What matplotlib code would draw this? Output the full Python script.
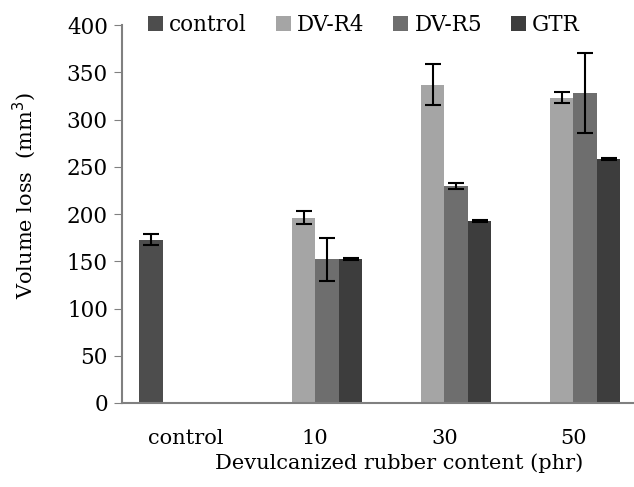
import numpy as np
import matplotlib
matplotlib.use("Agg")
import matplotlib.pyplot as plt

plt.rcParams['font.family'] = ['DejaVu Serif']

# data
groups = ['control', '10', '30', '50']
series = ['control', 'DV-R4', 'DV-R5', 'GTR']
values = {
    'control': [173, 0, 0, 0],
    'DV-R4':   [0, 196, 337, 323],
    'DV-R5':   [0, 152, 230, 328],
    'GTR':     [0, 152, 193, 258],
}
errors = {
    'control': [6, 0, 0, 0],
    'DV-R4':   [0, 7, 22, 6],
    'DV-R5':   [0, 23, 3, 42],
    'GTR':     [0, 1, 1, 1],
}
present = {
    'control': [True, False, False, False],
    'DV-R4':   [False, True, True, True],
    'DV-R5':   [False, True, True, True],
    'GTR':     [False, True, True, True],
}
colors = {'control': '#4d4d4d', 'DV-R4': '#a5a5a5', 'DV-R5': '#6e6e6e', 'GTR': '#3d3d3d'}

fig = plt.figure(figsize=(6.34, 4.87), dpi=100)
ax = fig.add_axes([0.192, 0.1725, 0.808, 0.776])

x = np.arange(len(groups))
w = 0.182
for i, s in enumerate(series):
    xs = x + (i - 1.5) * w
    mask = np.array(present[s])
    v = np.array(values[s])
    e = np.array(errors[s])
    ax.bar(xs[mask], v[mask], width=w, color=colors[s], label=s)
    ax.errorbar(xs[mask], v[mask], yerr=e[mask], fmt='none', ecolor='black',
                elinewidth=1.5, capsize=6, capthick=1.5)

ax.set_xlim(-0.5, 3.47)
ax.set_ylim(0, 400)
ax.set_yticks(np.arange(0, 401, 50))
ax.set_xticks(x)
ax.set_xticklabels(groups)
ax.tick_params(axis='x', length=0, labelsize=15, pad=19)
ax.tick_params(axis='y', length=6, color='#808080', labelsize=15.5, pad=4)
for sp in ['top', 'right']:
    ax.spines[sp].set_visible(False)
for sp in ['left', 'bottom']:
    ax.spines[sp].set_color('#808080')
    ax.spines[sp].set_linewidth(1.5)

ax.set_ylabel('Volume loss  (mm$^3$)', fontsize=15)
ax.yaxis.set_label_coords(-0.163, 0.55)
ax.set_xlabel('Devulcanized rubber content (phr)', fontsize=15)
ax.xaxis.set_label_coords(0.541, -0.132)

fig.legend(loc='center left', bbox_to_anchor=(0.233, 0.948), ncol=4, frameon=False,
           fontsize=15.5, handlelength=0.7, handleheight=0.7, handletextpad=0.28,
           columnspacing=1.35, borderaxespad=0, borderpad=0)

fig.savefig('out.png', dpi=100)
